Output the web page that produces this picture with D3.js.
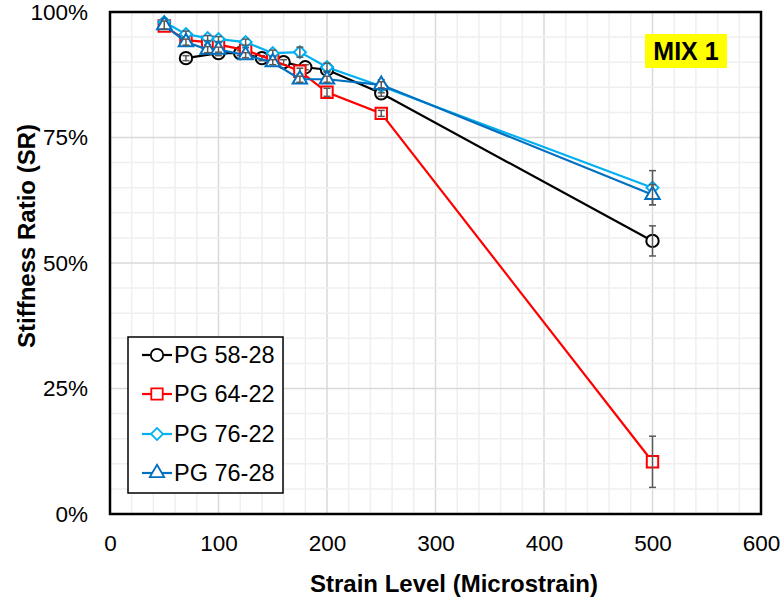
<!DOCTYPE html>
<html><head><meta charset="utf-8">
<script src="https://cdn.jsdelivr.net/npm/d3@7"></script>
<style>body{margin:0;background:#fff;}svg{display:block;font-family:"Liberation Sans",Arial,sans-serif;}</style>
</head><body><div id="chart"></div>
<script>
const seriesNames = ["PG 58-28", "PG 64-22", "PG 76-22", "PG 76-28"];
const seriesColors = ["#000000", "#FF0000", "#00B0F0", "#0070C0"];
const seriesSymbols = ["circle", "square", "diamond", "triangle"];

const x5828 = [70, 100, 120, 140, 160, 180, 200, 250, 500];
const y5828 = [0.908, 0.918, 0.918, 0.908, 0.900, 0.890, 0.885, 0.838, 0.544];
const e5828 = [0.005, 0.005, 0.005, 0.005, 0.005, 0.005, 0.005, 0.006, 0.030];

const x6422 = [50, 70, 90, 100, 125, 150, 175, 200, 250, 500];
const y6422 = [0.972, 0.944, 0.940, 0.935, 0.924, 0.904, 0.882, 0.840, 0.798, 0.104];
const e6422 = [0.006, 0.006, 0.005, 0.005, 0.005, 0.005, 0.006, 0.008, 0.006, 0.051];

const x7622 = [50, 70, 90, 100, 125, 150, 175, 200, 250, 500];
const y7622 = [0.980, 0.956, 0.948, 0.946, 0.940, 0.918, 0.920, 0.890, 0.852, 0.650];
const e7622 = [0.006, 0.006, 0.005, 0.005, 0.006, 0.006, 0.010, 0.008, 0.013, 0.034];

const x7628 = [50, 70, 90, 100, 125, 150, 175, 200, 250, 500];
const y7628 = [0.974, 0.940, 0.925, 0.925, 0.914, 0.900, 0.866, 0.866, 0.855, 0.636];
const e7628 = [0.008, 0.006, 0.006, 0.005, 0.005, 0.005, 0.006, 0.006, 0.006, 0.020];

const xTicks = [0, 100, 200, 300, 400, 500, 600];
const yTicks = [0, 0.25, 0.5, 0.75, 1.0];

const series = [
  {x: x5828, y: y5828, e: e5828},
  {x: x6422, y: y6422, e: e6422},
  {x: x7622, y: y7622, e: e7622},
  {x: x7628, y: y7628, e: e7628}
].map((s, i) => ({name: seriesNames[i], color: seriesColors[i], sym: seriesSymbols[i],
  pts: s.x.map((v, j) => ({x: v, y: s.y[j], e: s.e[j]}))}));

const W = 781, H = 599;
const L = 110, R = 761, T = 12, B = 514;
const svg = d3.select("#chart").append("svg").attr("width", W).attr("height", H);
const xs = d3.scaleLinear().domain([0, 600]).range([L, R]);
const ys = d3.scaleLinear().domain([0, 1]).range([B, T]);

// grid
const g = svg.append("g");
g.selectAll(".vx").data(d3.range(20, 600, 20)).join("line")
  .attr("x1", d => xs(d)).attr("x2", d => xs(d)).attr("y1", T).attr("y2", B)
  .attr("stroke", d => d % 100 === 0 ? "#d9d9d9" : "#efefef").attr("stroke-width", 1.5);
g.selectAll(".hy").data(d3.range(1, 20).map(i => i * 0.05)).join("line")
  .attr("y1", d => ys(d)).attr("y2", d => ys(d)).attr("x1", L).attr("x2", R)
  .attr("stroke", (d, i) => (i + 1) % 5 === 0 ? "#d9d9d9" : "#efefef").attr("stroke-width", 1.5);

// axes
const xAxis = svg.append("g").attr("transform", `translate(0,${B})`)
  .call(d3.axisBottom(xs).tickValues(xTicks).tickSize(0).tickPadding(21).tickFormat(d3.format("d")));
const yAxis = svg.append("g").attr("transform", `translate(${L},0)`)
  .call(d3.axisLeft(ys).tickValues(yTicks).tickSize(0).tickPadding(22).tickFormat(d3.format(".0%")));
[xAxis, yAxis].forEach(a => {
  a.select(".domain").remove();
  a.selectAll("text").attr("font-size", 22.5).attr("fill", "#000").attr("font-family", "Liberation Sans, Arial, sans-serif");
});

svg.append("rect").attr("x", L).attr("y", T).attr("width", R - L).attr("height", B - T)
  .attr("fill", "none").attr("stroke", "#000").attr("stroke-width", 2.5);

// series
const symMap = {circle: d3.symbolCircle, square: d3.symbolSquare, diamond: d3.symbolSquare, triangle: d3.symbolTriangle};
const symSize = {circle: 120, square: 130, diamond: 72, triangle: 90};
const symRot = {circle: 0, square: 0, diamond: 45, triangle: 0};
const line = d3.line().x(d => xs(d.x)).y(d => ys(d.y));

series.forEach(s => {
  const sg = svg.append("g");
  sg.append("path").attr("d", line(s.pts)).attr("fill", "none").attr("stroke", s.color).attr("stroke-width", 2.2);
  sg.selectAll(".m").data(s.pts).join("path")
    .attr("transform", d => `translate(${xs(d.x)},${ys(d.y)}) rotate(${symRot[s.sym]})`)
    .attr("d", d3.symbol().type(symMap[s.sym]).size(symSize[s.sym]))
    .attr("fill", "#fff").attr("stroke", s.color).attr("stroke-width", 2);
  const eb = sg.selectAll(".e").data(s.pts).join("g").attr("stroke", "#595959").attr("stroke-width", 1.5);
  eb.append("line").attr("x1", d => xs(d.x)).attr("x2", d => xs(d.x))
    .attr("y1", d => ys(d.y - d.e)).attr("y2", d => ys(d.y + d.e));
  eb.append("line").attr("x1", d => xs(d.x) - 3.5).attr("x2", d => xs(d.x) + 3.5)
    .attr("y1", d => ys(d.y - d.e)).attr("y2", d => ys(d.y - d.e));
  eb.append("line").attr("x1", d => xs(d.x) - 3.5).attr("x2", d => xs(d.x) + 3.5)
    .attr("y1", d => ys(d.y + d.e)).attr("y2", d => ys(d.y + d.e));
});

// legend
const lg = svg.append("g");
lg.append("rect").attr("x", 128).attr("y", 337).attr("width", 155).attr("height", 156)
  .attr("fill", "#fff").attr("stroke", "#000").attr("stroke-width", 1.5);
const lgY = [355, 394, 434, 473];
series.forEach((s, i) => {
  lg.append("line").attr("x1", 142).attr("x2", 172).attr("y1", lgY[i]).attr("y2", lgY[i])
    .attr("stroke", s.color).attr("stroke-width", 2.2);
  lg.append("path").attr("transform", `translate(157,${lgY[i]}) rotate(${symRot[s.sym]})`)
    .attr("d", d3.symbol().type(symMap[s.sym]).size(symSize[s.sym]))
    .attr("fill", "#fff").attr("stroke", s.color).attr("stroke-width", 1.8);
  lg.append("text").attr("x", 174).attr("y", lgY[i]).attr("dy", "0.36em")
    .attr("font-size", 23.5).attr("fill", "#000").text(s.name);
});

// MIX label
svg.append("rect").attr("x", 645).attr("y", 34).attr("width", 82).attr("height", 34).attr("fill", "#FFFF00");
svg.append("text").attr("x", 686).attr("y", 51).attr("dy", "0.36em").attr("text-anchor", "middle")
  .attr("font-size", 25).attr("font-weight", "bold").text("MIX 1");

// axis titles
svg.append("text").attr("x", 454).attr("y", 592).attr("text-anchor", "middle")
  .attr("font-size", 24).attr("font-weight", "bold").text("Strain Level (Microstrain)");
svg.append("text").attr("transform", `translate(35,236) rotate(-90)`).attr("text-anchor", "middle")
  .attr("font-size", 24).attr("font-weight", "bold").text("Stiffness Ratio (SR)");
</script></body></html>
